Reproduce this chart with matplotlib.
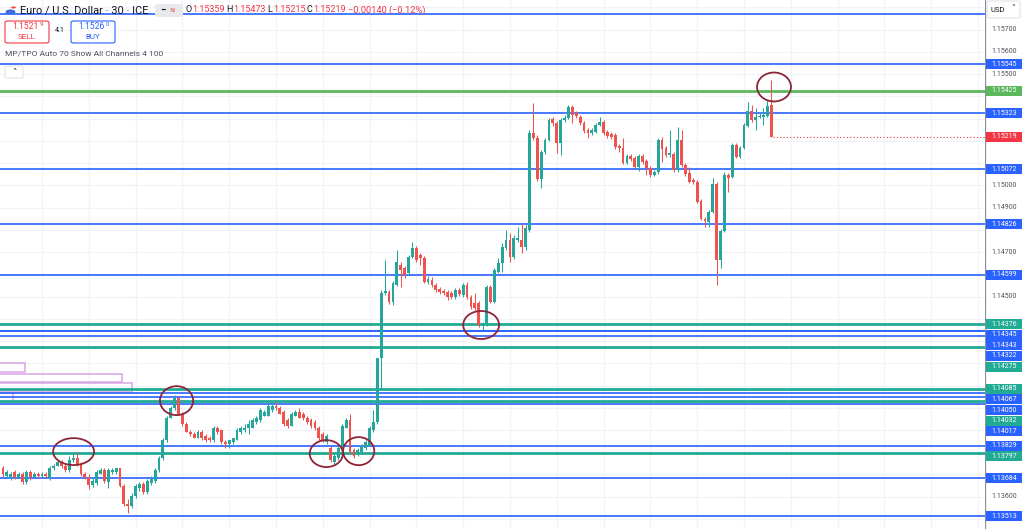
import matplotlib
matplotlib.use('Agg')
import matplotlib.pyplot as plt
from matplotlib.patches import Rectangle, Ellipse, FancyBboxPatch, Circle
import numpy as np

plt.rcParams['font.family'] = ['Roboto', 'DejaVu Sans']

# ---------------- data (EUR/USD 30m candles) ----------------
opens = [
    1.13727, 1.13695, 1.13686, 1.13709, 1.13691, 1.13704, 1.13668, 1.13709, 1.13691, 1.13704,
    1.13695, 1.13704, 1.13686, 1.13727, 1.13740, 1.13754, 1.13736, 1.13722, 1.13763, 1.13776,
    1.13745, 1.13704, 1.13691, 1.13655, 1.13664, 1.13704, 1.13718, 1.13668, 1.13713, 1.13709,
    1.13727, 1.13650, 1.13569, 1.13560, 1.13605, 1.13641, 1.13659, 1.13623, 1.13664, 1.13673,
    1.13718, 1.13772, 1.13853, 1.13956, 1.14001, 1.14042, 1.13974, 1.13929, 1.13893, 1.13880,
    1.13866, 1.13889, 1.13871, 1.13866, 1.13853, 1.13907, 1.13898, 1.13848, 1.13839, 1.13844,
    1.13857, 1.13889, 1.13898, 1.13907, 1.13911, 1.13934, 1.13943, 1.13965, 1.13965, 1.13988,
    1.14010, 1.14001, 1.13979, 1.13943, 1.13920, 1.13965, 1.13979, 1.13974, 1.13956, 1.13947,
    1.13934, 1.13907, 1.13884, 1.13844, 1.13821, 1.13754, 1.13772, 1.13821, 1.13911, 1.13943,
    1.13808, 1.13794, 1.13799, 1.13817, 1.13830, 1.13898, 1.13934, 1.14222, 1.14515, 1.14519,
    1.14474, 1.14551, 1.14641, 1.14627, 1.14605, 1.14677, 1.14717, 1.14686, 1.14672, 1.14564,
    1.14573, 1.14551, 1.14533, 1.14524, 1.14519, 1.14515, 1.14497, 1.14528, 1.14506, 1.14551,
    1.14497, 1.14470, 1.14470, 1.14366, 1.14371, 1.14542, 1.14474, 1.14609, 1.14650, 1.14717,
    1.14753, 1.14677, 1.14753, 1.14753, 1.14722, 1.14798, 1.15235, 1.15212, 1.15028, 1.15149,
    1.15203, 1.15298, 1.15280, 1.15190, 1.15293, 1.15302, 1.15352, 1.15325, 1.15307, 1.15280,
    1.15248, 1.15235, 1.15239, 1.15271, 1.15284, 1.15239, 1.15230, 1.15226, 1.15176, 1.15167,
    1.15100, 1.15131, 1.15122, 1.15082, 1.15131, 1.15109, 1.15077, 1.15046, 1.15059, 1.15203,
    1.15167, 1.15136, 1.15140, 1.15068, 1.15203, 1.15091, 1.15055, 1.15023, 1.15014, 1.14929,
    1.14848, 1.14834, 1.14879, 1.15005, 1.14663, 1.14794, 1.15046, 1.15037, 1.15181, 1.15127,
    1.15167, 1.15266, 1.15334, 1.15293, 1.15307, 1.15307, 1.15311, 1.15359]
highs = [
    1.13736, 1.13722, 1.13713, 1.13718, 1.13709, 1.13713, 1.13718, 1.13718, 1.13713, 1.13709,
    1.13713, 1.13713, 1.13736, 1.13749, 1.13763, 1.13763, 1.13745, 1.13781, 1.13794, 1.13799,
    1.13754, 1.13713, 1.13700, 1.13686, 1.13718, 1.13727, 1.13727, 1.13727, 1.13731, 1.13731,
    1.13731, 1.13659, 1.13592, 1.13619, 1.13659, 1.13668, 1.13668, 1.13682, 1.13695, 1.13731,
    1.13785, 1.13862, 1.13965, 1.14010, 1.14056, 1.14051, 1.13979, 1.13938, 1.13898, 1.13889,
    1.13898, 1.13898, 1.13884, 1.13875, 1.13916, 1.13916, 1.13902, 1.13857, 1.13857, 1.13866,
    1.13907, 1.13920, 1.13925, 1.13943, 1.13952, 1.13965, 1.13997, 1.13992, 1.14024, 1.14024,
    1.14024, 1.14010, 1.13988, 1.13952, 1.13983, 1.13988, 1.14001, 1.13983, 1.13965, 1.13956,
    1.13943, 1.13916, 1.13893, 1.13884, 1.13830, 1.13794, 1.13830, 1.13929, 1.13952, 1.13974,
    1.13817, 1.13817, 1.13839, 1.13853, 1.13916, 1.13988, 1.14222, 1.14528, 1.14663, 1.14528,
    1.14569, 1.14708, 1.14654, 1.14636, 1.14686, 1.14744, 1.14726, 1.14695, 1.14681, 1.14591,
    1.14587, 1.14560, 1.14542, 1.14533, 1.14528, 1.14524, 1.14537, 1.14537, 1.14560, 1.14564,
    1.14506, 1.14515, 1.14479, 1.14384, 1.14551, 1.14551, 1.14627, 1.14672, 1.14740, 1.14798,
    1.14785, 1.14776, 1.14812, 1.14830, 1.14821, 1.15248, 1.15370, 1.15226, 1.15158, 1.15212,
    1.15302, 1.15307, 1.15289, 1.15302, 1.15316, 1.15361, 1.15361, 1.15334, 1.15316, 1.15289,
    1.15257, 1.15257, 1.15280, 1.15307, 1.15293, 1.15248, 1.15239, 1.15235, 1.15185, 1.15212,
    1.15140, 1.15140, 1.15131, 1.15140, 1.15140, 1.15118, 1.15086, 1.15068, 1.15212, 1.15217,
    1.15176, 1.15248, 1.15149, 1.15262, 1.15248, 1.15100, 1.15082, 1.15032, 1.15023, 1.14938,
    1.14857, 1.14888, 1.15032, 1.15014, 1.14803, 1.15059, 1.15055, 1.15190, 1.15190, 1.15176,
    1.15280, 1.15374, 1.15361, 1.15347, 1.15325, 1.15347, 1.15383, 1.15473]
lows = [
    1.13691, 1.13686, 1.13677, 1.13682, 1.13686, 1.13659, 1.13659, 1.13677, 1.13686, 1.13686,
    1.13691, 1.13686, 1.13677, 1.13718, 1.13736, 1.13727, 1.13713, 1.13713, 1.13754, 1.13736,
    1.13695, 1.13682, 1.13637, 1.13646, 1.13655, 1.13700, 1.13664, 1.13641, 1.13700, 1.13700,
    1.13646, 1.13560, 1.13529, 1.13551, 1.13596, 1.13628, 1.13614, 1.13614, 1.13655, 1.13664,
    1.13713, 1.13767, 1.13848, 1.13952, 1.13992, 1.13970, 1.13920, 1.13889, 1.13871, 1.13862,
    1.13862, 1.13853, 1.13844, 1.13848, 1.13848, 1.13880, 1.13835, 1.13821, 1.13821, 1.13839,
    1.13853, 1.13880, 1.13893, 1.13884, 1.13907, 1.13929, 1.13934, 1.13961, 1.13961, 1.13983,
    1.13988, 1.13970, 1.13920, 1.13907, 1.13916, 1.13961, 1.13952, 1.13943, 1.13929, 1.13911,
    1.13898, 1.13857, 1.13844, 1.13839, 1.13754, 1.13749, 1.13763, 1.13817, 1.13907, 1.13794,
    1.13776, 1.13785, 1.13790, 1.13808, 1.13826, 1.13893, 1.13929, 1.14078, 1.14506, 1.14465,
    1.14461, 1.14546, 1.14542, 1.14582, 1.14596, 1.14672, 1.14654, 1.14641, 1.14560, 1.14555,
    1.14542, 1.14519, 1.14510, 1.14506, 1.14483, 1.14488, 1.14488, 1.14501, 1.14497, 1.14488,
    1.14443, 1.14438, 1.14362, 1.14348, 1.14366, 1.14470, 1.14470, 1.14605, 1.14609, 1.14708,
    1.14654, 1.14668, 1.14744, 1.14695, 1.14708, 1.14789, 1.15203, 1.15019, 1.14987, 1.15140,
    1.15199, 1.15266, 1.15145, 1.15136, 1.15284, 1.15298, 1.15280, 1.15302, 1.15271, 1.15235,
    1.15212, 1.15226, 1.15235, 1.15266, 1.15226, 1.15212, 1.15208, 1.15163, 1.15149, 1.15095,
    1.15095, 1.15109, 1.15077, 1.15064, 1.15095, 1.15046, 1.15037, 1.15041, 1.15050, 1.15104,
    1.15127, 1.15127, 1.15059, 1.15059, 1.15082, 1.15041, 1.15010, 1.15005, 1.14920, 1.14843,
    1.14812, 1.14812, 1.14875, 1.14551, 1.14627, 1.14789, 1.14969, 1.15032, 1.15122, 1.15122,
    1.15163, 1.15262, 1.15284, 1.15248, 1.15302, 1.15271, 1.15307, 1.15215]
closes = [
    1.13704, 1.13713, 1.13704, 1.13691, 1.13700, 1.13668, 1.13709, 1.13691, 1.13704, 1.13695,
    1.13704, 1.13695, 1.13727, 1.13740, 1.13754, 1.13736, 1.13722, 1.13763, 1.13776, 1.13745,
    1.13704, 1.13691, 1.13655, 1.13673, 1.13709, 1.13718, 1.13673, 1.13718, 1.13722, 1.13727,
    1.13650, 1.13569, 1.13560, 1.13605, 1.13650, 1.13659, 1.13623, 1.13673, 1.13682, 1.13718,
    1.13772, 1.13853, 1.13956, 1.14001, 1.14042, 1.13974, 1.13929, 1.13893, 1.13880, 1.13866,
    1.13889, 1.13862, 1.13853, 1.13857, 1.13907, 1.13889, 1.13844, 1.13839, 1.13853, 1.13862,
    1.13898, 1.13911, 1.13911, 1.13929, 1.13943, 1.13956, 1.13988, 1.13983, 1.14010, 1.14010,
    1.13997, 1.13974, 1.13929, 1.13920, 1.13974, 1.13979, 1.13956, 1.13952, 1.13934, 1.13920,
    1.13907, 1.13866, 1.13853, 1.13875, 1.13763, 1.13785, 1.13821, 1.13920, 1.13943, 1.13799,
    1.13785, 1.13808, 1.13830, 1.13844, 1.13907, 1.13934, 1.14222, 1.14515, 1.14524, 1.14474,
    1.14560, 1.14654, 1.14618, 1.14596, 1.14677, 1.14717, 1.14663, 1.14672, 1.14564, 1.14578,
    1.14551, 1.14528, 1.14519, 1.14515, 1.14497, 1.14497, 1.14528, 1.14510, 1.14551, 1.14497,
    1.14452, 1.14447, 1.14371, 1.14375, 1.14542, 1.14474, 1.14618, 1.14650, 1.14722, 1.14753,
    1.14677, 1.14762, 1.14762, 1.14722, 1.14807, 1.15235, 1.15212, 1.15028, 1.15149, 1.15203,
    1.15293, 1.15280, 1.15190, 1.15293, 1.15302, 1.15352, 1.15316, 1.15311, 1.15280, 1.15244,
    1.15235, 1.15248, 1.15271, 1.15284, 1.15235, 1.15221, 1.15217, 1.15172, 1.15167, 1.15100,
    1.15131, 1.15118, 1.15082, 1.15131, 1.15104, 1.15077, 1.15046, 1.15059, 1.15203, 1.15163,
    1.15136, 1.15145, 1.15068, 1.15203, 1.15091, 1.15050, 1.15014, 1.15014, 1.14924, 1.14848,
    1.14839, 1.14879, 1.15005, 1.14663, 1.14794, 1.15046, 1.15032, 1.15181, 1.15127, 1.15167,
    1.15271, 1.15334, 1.15293, 1.15307, 1.15311, 1.15316, 1.15356, 1.15219]

# horizontal levels
blue_levels = [1.15545, 1.15323, 1.15072, 1.14826, 1.14599, 1.14345, 1.14343, 1.14322,
               1.14067, 1.14050, 1.14017, 1.13829, 1.13684, 1.13513]
blue_unlabeled = [1.15770]
teal_levels = [1.14376, 1.14275, 1.14085, 1.14032, 1.13797]
green_levels = [1.15425]
last_price = 1.15219

# TPO profile boxes: (low, high, width in bars)
tpo_low = [1.14159, 1.14114, 1.14069, 1.14024]
tpo_high = [1.14200, 1.14154, 1.14110, 1.14065]
tpo_len = [6.4, 31.3, 33.9, 3.4]

# hand-drawn circles: (bar index, price), size (bars, price)
circ_x = [18.1, 44.5, 82.9, 91.2, 122.6, 197.7]
circ_y = [1.13803, 1.14032, 1.13794, 1.13805, 1.14372, 1.15442]
circ_w = [10.5, 8.5, 8.5, 8.0, 9.2, 8.7]
circ_h = [0.00121, 0.00130, 0.00121, 0.00126, 0.00126, 0.00130]

# header
ohlc_labels = ['O', 'H', 'L', 'C']
ohlc_vals = ['1.15359', '1.15473', '1.15215', '1.15219']
change_txt = '\u22120.00140 (\u22120.12%)'

# ---------------- styling ----------------
UP, DN = '#26a69a', '#ef5350'
BLUE, TEAL, GREEN, RED = '#2962ff', '#22ab94', '#5cb85c', '#f23645'
GRID = '#f0f3fa'

W, H = 1022, 529
PLOT_R = 985
Y_TOP, Y_BOT = 1.15833, 1.13455
X_L, X_R = -0.77, 251.8
PXPP = H / (Y_TOP - Y_BOT)  # pixels per price unit

fig = plt.figure(figsize=(W / 100, H / 100), dpi=100)
fig.patch.set_facecolor('white')
ax = fig.add_axes([0, 0, PLOT_R / W, 1])
ax.set_xlim(X_L, X_R)
ax.set_ylim(Y_BOT, Y_TOP)
ax.axis('off')

# grid
for p in np.arange(1.134, 1.159, 0.001):
    ax.axhline(p, color=GRID, lw=0.9, zorder=0)
for k in range(10, 252, 12):
    ax.axvline(k, color=GRID, lw=0.9, zorder=0)

# TPO boxes
for lo, hi, ln in zip(tpo_low, tpo_high, tpo_len):
    ax.add_patch(Rectangle((X_L - 1, lo), ln + 1, hi - lo, fill=False,
                           edgecolor='#d7a6e3', lw=1.1, zorder=1))

# levels
for p in blue_unlabeled + blue_levels:
    ax.axhline(p, color=BLUE, lw=1.2, zorder=2)
for p in teal_levels:
    ax.axhline(p, color=TEAL, lw=2.0, zorder=2)
for p in green_levels:
    ax.axhline(p, color=GREEN, lw=2.0, zorder=2)

# candles
xs = np.arange(len(closes))
minh = 1.0 / PXPP
for i, (o, h, l, c) in enumerate(zip(opens, highs, lows, closes)):
    col = UP if c >= o else DN
    ax.vlines(i, l, h, color=col, lw=0.75, zorder=3)
    ax.add_patch(Rectangle((i - 0.36, min(o, c)), 0.72, max(abs(c - o), minh),
                           facecolor=col, edgecolor='none', zorder=3))

# last price dotted line
ax.plot([xs[-1] + 0.5, X_R], [last_price, last_price], color=RED, lw=0.8,
        ls=(0, (1, 2)), zorder=2)

# circles
for cx, cy, cw, ch in zip(circ_x, circ_y, circ_w, circ_h):
    ax.add_patch(Ellipse((cx, cy), cw, ch, fill=False, edgecolor='#8e2438',
                         lw=1.3, zorder=5))

# ---------------- price scale ----------------
ax2 = fig.add_axes([PLOT_R / W, 0, (W - PLOT_R) / W, 1])
ax2.set_xlim(0, W - PLOT_R)
ax2.set_ylim(Y_BOT, Y_TOP)
ax2.axis('off')
ax2.axvline(0.4, color='#8c8f98', lw=0.9)

labels = [(p, BLUE) for p in blue_levels] + [(p, TEAL) for p in teal_levels] + \
         [(p, GREEN) for p in green_levels] + [(last_price, RED)]
labels.sort(key=lambda t: -t[0])
prev = -1e9
LH = 10.6
label_px = []
for p, col in labels:
    ypx = (Y_TOP - p) * PXPP
    ypx = max(ypx, prev + LH)
    prev = ypx
    label_px.append(ypx)
    yc = Y_TOP - ypx / PXPP
    hh = 5.0 / PXPP
    ax2.add_patch(Rectangle((1.0, yc - hh), 35.5, 2 * hh, facecolor=col,
                            edgecolor='none', zorder=3))
    ax2.text(18.8, yc, f'{p:.5f}', ha='center', va='center', fontsize=5.0,
             color='white', zorder=4)

for p in np.arange(1.136, 1.1575, 0.001):
    tpx = (Y_TOP - p) * PXPP
    if min(abs(tpx - lp) for lp in label_px) < 9.5:
        continue  # hidden behind a level label
    ax2.text(19.5, p, f'{p:.5f}', ha='center', va='center', fontsize=5.0,
             color='#50535e', zorder=1)


# ---------------- header / overlays ----------------
def T(x, y, s, **kw):
    kw.setdefault('va', 'center')
    return fig.text(x / W, 1 - y / H, s, **kw)


def box(x0, y0, x1, y1, ec, fc='white', lw=0.8, r=3):
    fig.patches.append(FancyBboxPatch((x0 / W, 1 - y1 / H), (x1 - x0) / W, (y1 - y0) / H,
                                      boxstyle=f'round,pad=0,rounding_size={r / W}',
                                      transform=fig.transFigure, facecolor=fc,
                                      edgecolor=ec, lw=lw, zorder=10))


# USD selector
box(987, 1, 1020, 18, '#e0e3eb')
T(990, 9.5, 'USD', fontsize=5.5, color='#131722', zorder=11)
T(1011, 9.5, '\u02c5', fontsize=5.5, color='#131722', zorder=11)

# symbol icon
fig.patches.append(Circle((10.5 / W, 1 - 12 / H), 5 / W, transform=fig.transFigure,
                          facecolor='#3d6fd8', edgecolor='none', zorder=10))
fig.patches.append(Circle((13.5 / W, 1 - 7.5 / H), 2.8 / W, transform=fig.transFigure,
                          facecolor='#e74c3c', edgecolor='white', lw=0.5, zorder=11))

T(20, 10, 'Euro / U.S. Dollar \u00b7 30 \u00b7 ICE', fontsize=7.9, color='#131722', zorder=11)
box(155, 4, 183, 17, 'none', fc='#e8e9ed', r=4)
T(160, 10, '\u2212', fontsize=7, color='#131722', fontweight='bold', zorder=11)
T(170, 10, '\u2248', fontsize=7, color=RED, zorder=11)

ox = [186, 226.5, 267.5, 306.5]
vx = [192.5, 233, 273, 313]
for lab, val, x0, x1 in zip(ohlc_labels, ohlc_vals, ox, vx):
    T(x0, 10, lab, fontsize=6.5, color='#131722', zorder=11)
    T(x1, 10, val, fontsize=6.5, color=RED, zorder=11)
T(348, 10, change_txt, fontsize=6.7, color=RED, zorder=11)

# sell / buy
box(5, 21, 49, 43, RED, r=3)
T(12.5, 26.5, '1.1521', fontsize=6.2, color=RED, zorder=11)
T(40, 24, '9', fontsize=4.4, color=RED, zorder=11)
T(27, 37, 'SELL', fontsize=5.8, color=RED, ha='center', zorder=11)
T(60, 31, '4.1', fontsize=5.2, color='#131722', ha='center', zorder=11)
box(71, 21, 115, 43, BLUE, r=3)
T(78.5, 26.5, '1.1526', fontsize=6.2, color=BLUE, zorder=11)
T(106, 24, '0', fontsize=4.4, color=BLUE, zorder=11)
T(93, 37, 'BUY', fontsize=5.8, color=BLUE, ha='center', zorder=11)

T(5, 54, 'MP/TPO Auto 70 Show All Channels 4 100', fontsize=6.0, color='#50535e', zorder=11)
box(5, 66, 23, 78, '#e0e3eb', r=2)
T(14, 72, '\u02c4', fontsize=6.5, color='#131722', ha='center', zorder=11)

fig.savefig('out.png', dpi=100, facecolor='white')
